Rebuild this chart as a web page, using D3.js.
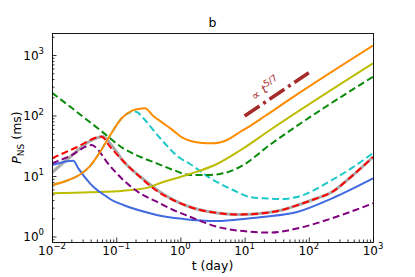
<!DOCTYPE html>
<html>
<head>
<meta charset="utf-8">
<script src="https://cdn.jsdelivr.net/npm/d3@7"></script>
<style>
body{margin:0;background:#fff;}
svg{font-family:"DejaVu Sans",sans-serif;display:block;}
</style>
</head>
<body>
<div id="chart"></div>
<script>
//Data (t in days, P in ms)
const tOrange = [0.01,0.0165,0.0273,0.0391,0.056,0.08,0.122,0.174,0.221,0.281,0.378,0.536,0.689,1.1,2.02,3.22,5.32,8.48,12.1,20.8,50.9,1000];
const pOrange = [7.1,8.27,10.6,14.6,24.9,46.7,90,119,128,132,98,75,62,42.5,35.5,34.7,39.4,53.4,67,98,187,1436];

const tCyan = [0.01,0.0165,0.0273,0.0391,0.056,0.08,0.122,0.153,0.196,0.281,0.378,0.481,0.986,1.41,2.89,6.6,12.1,22.3,38.3,67.9,230,471,1000];
const pCyan = [7.1,8.27,10.6,14.6,24.9,46.7,90,109,116,84.3,57.6,42.5,19.8,15.8,9.27,5.87,4.5,4.25,4.17,4.55,8.59,13.6,24];

const tGreen = [0.01,0.056,0.129,0.235,0.427,0.775,1.41,2.6,4.14,8.48,24.9,1000];
const pGreen = [238,57.6,28.7,20.8,16.2,12.6,10.4,10.4,10.8,14.1,32.9,438];

const tYellow = [0.01,0.0391,0.129,0.336,0.427,1.41,3.72,8.48,24.9,1000];
const pYellow = [5.18,5.38,5.71,6.55,7.29,10.8,15.8,26.4,57.6,729];

const tBlue = [0.01,0.0215,0.0257,0.0391,0.0468,0.0711,0.0851,0.129,0.336,0.427,1.11,3.72,12.1,20.8,67.9,230,1000];
const pBlue = [15.2,17.9,13.4,7.57,6.26,4.55,4.01,3.32,2.42,2.27,1.95,1.8,2,2.12,2.57,4.28,9.16];

const tGray = [0.01,0.0191,0.0391,0.0623,0.0861,0.137,0.252,0.481,1.41,3.72,8.48,17.4,38.3,67.9,125,230,471,1000];
const pGray = [11.4,20.6,37.9,45,31.3,16.4,9.27,5.44,3.07,2.45,2.31,2.4,2.74,3.32,4.17,5.44,10,20.6];

const tRed = [0.01,0.0228,0.0594,0.08,0.128,0.235,0.432,0.767,1.41,3.72,8.48,17.4,38.3,67.9,125,230,471,1000];
const pRed = [19.6,29,44.7,30.5,17.7,9.62,5.65,4.01,3.07,2.45,2.31,2.4,2.74,3.32,4.17,5.44,10,20.6];

const tPurple = [0.01,0.0191,0.0415,0.0497,0.0711,0.129,0.235,0.427,0.775,1.41,3.72,12.1,24.9,67.9,230,1000];
const pPurple = [16.2,21.4,32.5,28.7,17.2,8.59,5.18,3.76,2.74,2.12,1.45,1.2,1.16,1.37,2,3.54];

//power-law guide line
const tGuide = [10,100];
const pGuide = [98,510];

//axis ticks
const xExponents = [-2,-1,0,1,2,3];
const yExponents = [0,1,2,3];
const xDomain = [0.01,1000];
const yDomain = [0.811,2312];

const width = 415;
const height = 277;
const margin = {t:33,r:42,b:35,l:52};
const w = width - margin.l - margin.r;
const h = height - margin.t - margin.b;

const svg = d3.select('#chart').append('svg')
	.attr('width',width)
	.attr('height',height);

const plot = svg.append('g')
	.attr('transform',`translate(${margin.l},${margin.t})`);

const scaleX = d3.scaleLog().domain(xDomain).range([0,w]);
const scaleY = d3.scaleLog().domain(yDomain).range([h,0]);

svg.append('clipPath').attr('id','clip')
	.append('rect').attr('width',w).attr('height',h);

//minor tick values between decades
function minorTicks(domain){
	const out = [];
	for(let e = Math.floor(Math.log10(domain[0])); e <= Math.ceil(Math.log10(domain[1])); e++){
		for(let m = 2; m <= 9; m++){
			const v = m*Math.pow(10,e);
			if(v >= domain[0] && v <= domain[1]) out.push(v);
		}
	}
	return out;
}

//Axes (ticks point inward)
const axisX = d3.axisBottom(scaleX).tickValues(xExponents.map(e => Math.pow(10,e))).tickSizeInner(-4.5).tickSizeOuter(0).tickFormat('');
const axisXMinor = d3.axisBottom(scaleX).tickValues(minorTicks(xDomain)).tickSizeInner(-2.5).tickSizeOuter(0).tickFormat('');
const axisY = d3.axisLeft(scaleY).tickValues(yExponents.map(e => Math.pow(10,e))).tickSizeInner(-4.5).tickSizeOuter(0).tickFormat('');
const axisYMinor = d3.axisLeft(scaleY).tickValues(minorTicks(yDomain)).tickSizeInner(-2.5).tickSizeOuter(0).tickFormat('');

[[axisX,`translate(0,${h})`],[axisXMinor,`translate(0,${h})`],[axisY,null],[axisYMinor,null]].forEach(([ax,tr]) => {
	const g = plot.append('g').attr('class','axis').call(ax);
	if(tr) g.attr('transform',tr);
	g.select('.domain').remove();
	g.selectAll('line').attr('stroke','#000').attr('stroke-width',0.8);
});

//Tick labels as 10^n
function expLabel(sel,e){
	sel.append('tspan').text('10');
	sel.append('tspan').attr('font-size',8.5).attr('dy',-5.5).text(String(e).replace('-','\u2212'));
}
xExponents.forEach(e => {
	plot.append('text')
		.attr('x',scaleX(Math.pow(10,e)))
		.attr('y',h+12.5)
		.attr('text-anchor','middle')
		.attr('font-size',12)
		.call(expLabel,e);
});
yExponents.forEach(e => {
	plot.append('text')
		.attr('x',-8)
		.attr('y',scaleY(Math.pow(10,e))+4.5)
		.attr('text-anchor','end')
		.attr('font-size',12)
		.call(expLabel,e);
});

//Curves
const line = d3.line()
	.x(d => scaleX(d[0]))
	.y(d => scaleY(d[1]))
	.curve(d3.curveMonotoneX);

const series = [
	{t:tGray,p:pGray,color:'#aaaaaa',lw:3,dash:null},
	{t:tCyan,p:pCyan,color:'#1ec8c8',lw:2,dash:'7,3.5'},
	{t:tGreen,p:pGreen,color:'#0a8a0a',lw:2,dash:'7,3.5'},
	{t:tYellow,p:pYellow,color:'#bcbc00',lw:2,dash:null},
	{t:tBlue,p:pBlue,color:'#4169e1',lw:2,dash:null},
	{t:tPurple,p:pPurple,color:'#800080',lw:2,dash:'7,3.5'},
	{t:tRed,p:pRed,color:'#ff0000',lw:2,dash:'7,3.5'},
	{t:tOrange,p:pOrange,color:'#ff8c00',lw:2,dash:null}
];

const curves = plot.append('g').attr('clip-path','url(#clip)');
curves.selectAll('.curve')
	.data(series)
	.enter()
	.append('path')
	.attr('class','curve')
	.attr('d',d => line(d.t.map((t,i) => [t,d.p[i]])))
	.attr('fill','none')
	.attr('stroke',d => d.color)
	.attr('stroke-width',d => d.lw)
	.attr('stroke-dasharray',d => d.dash);

//guide line and label
curves.append('path')
	.attr('d',d3.line().x(d => scaleX(d[0])).y(d => scaleY(d[1]))(tGuide.map((t,i) => [t,pGuide[i]])))
	.attr('fill','none')
	.attr('stroke','#a52a2a')
	.attr('stroke-width',3.5)
	.attr('stroke-dasharray','18,4.5,3,4.5');

const gx = scaleX(tGuide[0]) + 10;
const gy = scaleY(pGuide[0]) - 15;
const note = plot.append('text')
	.attr('transform',`translate(${gx},${gy}) rotate(-34)`)
	.attr('font-size',12)
	.attr('fill','#a52a2a');
note.append('tspan').text('\u221D ');
note.append('tspan').attr('font-style','italic').text('t');
note.append('tspan').attr('font-size',9).attr('dy',-5).text('5/7');

//Frame
plot.append('rect')
	.attr('x',0.5).attr('y',0.5)
	.attr('width',w).attr('height',h)
	.attr('fill','none')
	.attr('stroke','#000')
	.attr('stroke-width',0.9);

//Titles
svg.append('text')
	.attr('x',margin.l + w/2)
	.attr('y',27)
	.attr('text-anchor','middle')
	.attr('font-size',12.5)
	.text('b');

svg.append('text')
	.attr('x',margin.l + w/2)
	.attr('y',270)
	.attr('text-anchor','middle')
	.attr('font-size',12.5)
	.text('t (day)');

const yLabel = svg.append('text')
	.attr('transform',`translate(21,${margin.t + h/2}) rotate(-90)`)
	.attr('text-anchor','middle')
	.attr('font-size',12.5);
yLabel.append('tspan').attr('font-style','italic').text('P');
yLabel.append('tspan').attr('font-size',9).attr('dy',3).text('NS');
yLabel.append('tspan').attr('dy',-3).text(' (ms)');
</script>
</body>
</html>
